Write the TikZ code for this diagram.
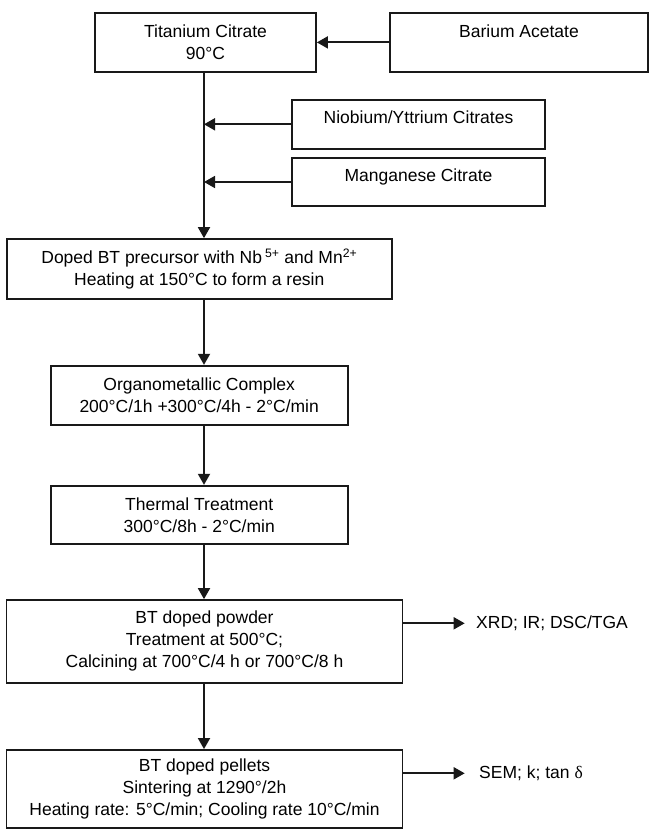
\documentclass[tikz,border=0pt]{standalone}
\usepackage{fontspec}
\setmainfont{Liberation Sans}
\newfontfamily\grkfont{Liberation Serif}
\usetikzlibrary{arrows.meta}
\begin{document}
\begin{tikzpicture}[x=1pt,y=1pt,
  box/.style={draw=black!90, line width=1.8pt, rectangle, inner sep=0pt, align=center,
    font=\fontsize{17.5}{22}\selectfont},
  lbl/.style={inner sep=0pt, anchor=west, font=\fontsize{17.5}{22}\selectfont},
  arr/.style={draw=black!90, line width=1.8pt, -{Triangle[length=11pt,width=12pt]}}]
\useasboundingbox (0,0) rectangle (651,-832);
\node[box, minimum width=221, minimum height=59.3] (tit) at (205.5,-42.4) {Titanium Citrate\\90°C};
\node[box, minimum width=258, minimum height=59.3] (bar) at (519,-42.4) {Barium Acetate\\\mbox{}};
\node[box, minimum width=253, minimum height=48.7] (nio) at (418.5,-124.3) {Niobium/Yttrium Citrates\\[-8pt]\mbox{}};
\node[box, minimum width=253, minimum height=48] (man) at (418.5,-182) {Manganese Citrate\\[-8pt]\mbox{}};
\node[box, minimum width=385.4, minimum height=59.7] (dop) at (199.3,-268.9) {Doped BT precursor with Nb\,\textsuperscript{5+} and Mn\textsuperscript{2+}\\Heating at 150°C to form a resin};
\node[box, minimum width=297, minimum height=59.3] (org) at (199.2,-395.4) {Organometallic Complex\\200°C/1h +300°C/4h - 2°C/min};
\node[box, minimum width=297, minimum height=58.3] (the) at (199.2,-514.9) {Thermal Treatment\\300°C/8h - 2°C/min};
\node[box, minimum width=396, minimum height=82.7] (pow) at (204.5,-641.4) {BT doped powder\\Treatment at 500°C;\\Calcining at 700°C/4 h or 700°C/8 h};
\node[box, minimum width=396, minimum height=78] (pel) at (204.5,-789) {BT doped pellets\\Sintering at 1290°/2h\\Heating rate: 5°C/min; Cooling rate 10°C/min};
\node[lbl] (xrd) at (476,-623.3) {XRD; IR; DSC/TGA};
\node[lbl] (sem) at (479,-773.3) {SEM; k; tan {\grkfont δ}};
\coordinate (sp) at (204,0);
\coordinate (j1) at (sp |- nio.west);
\coordinate (j2) at (sp |- man.west);
\coordinate (e1) at (464.7,-623.3);
\coordinate (e2) at (464.7,-773.3);
\draw[arr] (bar.west) -- (tit.east);
\draw[arr] (nio.west) -- (j1);
\draw[arr] (man.west) -- (j2);
\draw[arr] (tit.south -| sp) -- (dop.north -| sp);
\draw[arr] (dop.south -| sp) -- (org.north -| sp);
\draw[arr] (org.south -| sp) -- (the.north -| sp);
\draw[arr] (the.south -| sp) -- (pow.north -| sp);
\draw[arr] (pow.south -| sp) -- (pel.north -| sp);
\draw[arr] (pow.east |- e1) -- (e1);
\draw[arr] (pel.east |- e2) -- (e2);
\end{tikzpicture}
\end{document}
